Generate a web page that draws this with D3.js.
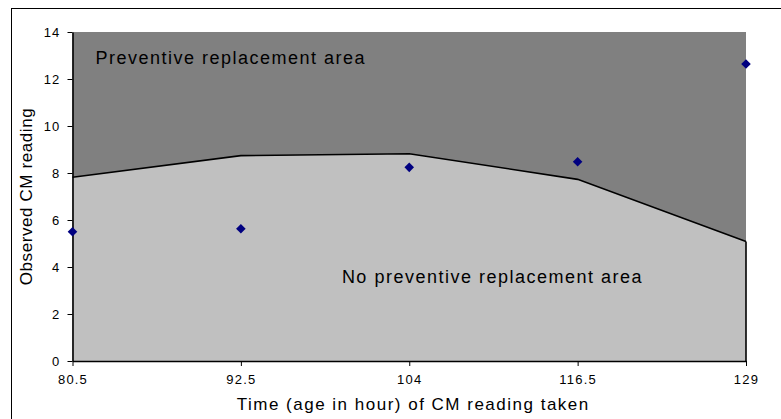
<!DOCTYPE html>
<html>
<head>
<meta charset="utf-8">
<script src="https://cdn.jsdelivr.net/npm/d3@7"></script>
<style>
  body { margin: 0; background: #fff; }
  text { font-family: "Liberation Sans", Arial, sans-serif; fill: #000; }
</style>
</head>
<body>
<div id="chart"></div>
<script>
// chart values
var hours = ["80.5", "92.5", "104", "116.5", "129"];
var limit = [7.82, 8.74, 8.82, 7.73, 5.08];      // replacement limit line
var readings = [5.5, 5.63, 8.24, 8.48, 12.64];  // observed CM readings
var yTicks = [0, 2, 4, 6, 8, 10, 12, 14];

var W = 781, H = 419;
var margin = {top: 32, right: 35, bottom: 58, left: 72.5};
var width = 746 - margin.left,
    height = 361 - margin.top;

var svg = d3.select("#chart")
  .append("svg")
    .attr("width", W)
    .attr("height", H);

// outer chart border (runs off the right and bottom edge)
svg.append("rect")
  .attr("x", 11.5).attr("y", 8.5)
  .attr("width", 900).attr("height", 600)
  .attr("fill", "none")
  .attr("stroke", "#000")
  .attr("stroke-width", 1);

var g = svg.append("g")
  .attr("transform", "translate(" + margin.left + "," + margin.top + ")");

var x = d3.scalePoint()
  .domain(hours)
  .range([0, width]);

var y = d3.scaleLinear()
  .domain([0, 14])
  .range([height, 0]);

// dark area: whole plot
g.append("rect")
  .attr("x", 0).attr("y", 0)
  .attr("width", width).attr("height", height)
  .attr("fill", "#808080");

// light area below the limit line
var rows = hours.map(function(h, i) { return {h: h, v: limit[i]}; });
g.append("path")
  .datum(rows)
  .attr("d", d3.area()
    .x(function(d) { return x(d.h); })
    .y0(y(0))
    .y1(function(d) { return y(d.v); }))
  .attr("fill", "#c0c0c0");

g.append("path")
  .datum(rows)
  .attr("d", d3.line()
    .x(function(d) { return x(d.h); })
    .y(function(d) { return y(d.v); }))
  .attr("fill", "none")
  .attr("stroke", "#000")
  .attr("stroke-width", 1.6);

// right edge of the light area
g.append("line")
  .attr("x1", x(hours[hours.length - 1])).attr("x2", x(hours[hours.length - 1]))
  .attr("y1", y(limit[limit.length - 1])).attr("y2", y(0))
  .attr("stroke", "#000")
  .attr("stroke-width", 1.6);

// axes
var yAxis = g.append("g")
  .call(d3.axisLeft(y).tickValues(yTicks).tickSize(5).tickSizeOuter(0).tickPadding(7));
var xAxis = g.append("g")
  .attr("transform", "translate(0," + height + ")")
  .call(d3.axisBottom(x).tickSize(5).tickSizeOuter(0).tickPadding(9));

[yAxis, xAxis].forEach(function(a) {
  a.select(".domain").attr("stroke", "#000").attr("stroke-width", 1.6);
  a.selectAll(".tick line").attr("stroke", "#000");
  a.selectAll("text")
    .style("font-family", "Liberation Sans, Arial, sans-serif")
    .style("font-size", "13px")
    .style("letter-spacing", "1.2px")
    .attr("fill", "#000");
});

// observed readings
g.selectAll(".pt")
  .data(readings)
  .enter()
  .append("path")
    .attr("class", "pt")
    .attr("d", d3.symbol().type(d3.symbolSquare).size(46))
    .attr("transform", function(d, i) {
      return "translate(" + x(hours[i]) + "," + y(d) + ") rotate(45)";
    })
    .attr("fill", "#000080");

// area labels
g.append("text")
  .attr("x", 23)
  .attr("y", y(12.65))
  .style("font-size", "18px")
  .style("letter-spacing", "1.5px")
  .text("Preventive replacement area");

g.append("text")
  .attr("x", x("92.5") + 101)
  .attr("y", y(3.33))
  .style("font-size", "18px")
  .style("letter-spacing", "1.5px")
  .text("No preventive replacement area");

// axis titles
g.append("text")
  .attr("x", width / 2 + 4)
  .attr("y", height + 49)
  .attr("text-anchor", "middle")
  .style("font-size", "17px")
  .style("letter-spacing", "1.5px")
  .text("Time (age in hour) of CM reading taken");

g.append("text")
  .attr("transform", "translate(" + (-41) + "," + (height / 2) + ") rotate(-90)")
  .attr("text-anchor", "middle")
  .style("font-size", "17px")
  .style("letter-spacing", "0.6px")
  .text("Observed CM reading");
</script>
</body>
</html>
